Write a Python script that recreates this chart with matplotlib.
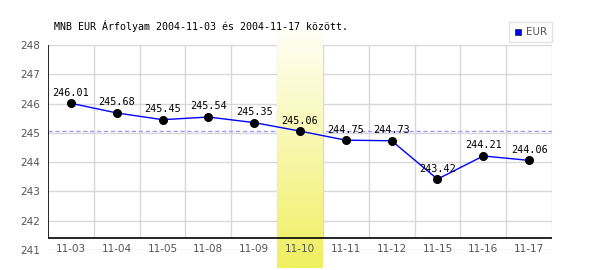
import numpy as np
import matplotlib
matplotlib.use("Agg")
import matplotlib.pyplot as plt
from matplotlib.colors import LinearSegmentedColormap
from matplotlib.lines import Line2D

# EUR rate, MNB, 2004-11-03 .. 2004-11-17
dates = ["11-03", "11-04", "11-05", "11-08", "11-09", "11-10",
         "11-11", "11-12", "11-15", "11-16", "11-17"]
rates = [246.01, 245.68, 245.45, 245.54, 245.35, 245.06,
         244.75, 244.73, 243.42, 244.21, 244.06]
highlight = "11-10"
yticks = [241, 242, 243, 244, 245, 246, 247, 248]
title = "MNB EUR Árfolyam 2004-11-03 és 2004-11-17 között."

fig = plt.figure(figsize=(6, 2.7), dpi=100)
ax = fig.add_axes([48 / 600, 1 - 250 / 270, 504 / 600, 205 / 270])

x = np.arange(len(dates))
hi = dates.index(highlight)
ymin, ymax = yticks[0], yticks[-1]
px = 205 / (ymax - ymin)          # pixels per unit
base = ymin + 12 / px            # where the black x axis sits

# grid
ax.set_yticks(yticks)
ax.grid(axis="y", color="#d8d8d8", lw=1, zorder=0.5)
ax.vlines(x + 0.5, base, ymax, color="#d8d8d8", lw=1, zorder=0.5)

# reference line at highlighted day's value
ax.axhline(rates[hi], color="#9999ff", lw=1, ls=(0, (3, 2)), zorder=1)

# highlighted day band, yellow gradient
cmap = LinearSegmentedColormap.from_list("hl", ["#fffff6", "#f0ef60"])
grad = np.linspace(0, 1, 256).reshape(-1, 1)
ax.imshow(grad, cmap=cmap, aspect="auto", origin="upper",
          extent=(hi - 0.5, hi + 0.5, ymin - 18 / px, ymin + 220 / px),
          zorder=2, clip_on=False, interpolation="bilinear")

# series
ax.plot(x, rates, color="#0000ff", lw=1, zorder=3)
ax.plot(x, rates, ls="none", marker="o", ms=5.5, color="black", zorder=4)
for xi, v in zip(x, rates):
    ax.annotate(f"{v:.2f}", (xi, v), xytext=(0, 4), textcoords="offset points",
                ha="center", va="bottom", fontsize=7.3,
                family="DejaVu Sans Mono", color="black", zorder=5)

ax.set_xlim(-0.5, len(dates) - 0.5)
ax.set_ylim(ymin, ymax)

# axes lines
for s in ax.spines.values():
    s.set_visible(False)
ax.axhline(base, color="black", lw=1.2, zorder=6)
ax.vlines(-0.5, base, ymax, color="black", lw=1.2, zorder=6)

ax.set_xticks(x)
ax.set_xticklabels(dates)
ax.tick_params(axis="both", length=0, labelsize=7.5, labelcolor="#555555")
ax.tick_params(axis="x", pad=-4.5)
ax.tick_params(axis="y", pad=6)
ax.xaxis.set_zorder(7)

fig.text(54 / 600, 1 - 26 / 270, title, fontsize=7.2,
         family="DejaVu Sans Mono", va="center", ha="left")

handle = Line2D([], [], ls="none", marker="s", ms=5, color="#0000ff",
                markeredgecolor="#333333", markeredgewidth=0.6)
leg = fig.legend([handle], ["EUR"], loc="upper right",
                 bbox_to_anchor=(552 / 600, 1 - 22 / 270),
                 fontsize=7.5, frameon=True, fancybox=False,
                 handlelength=0.8, handletextpad=0.3, borderpad=0.5,
                 borderaxespad=0)
leg.get_frame().set_edgecolor("#dddddd")
leg.get_frame().set_linewidth(1)
for t in leg.get_texts():
    t.set_color("#555555")

fig.savefig("out.png", dpi=100)
